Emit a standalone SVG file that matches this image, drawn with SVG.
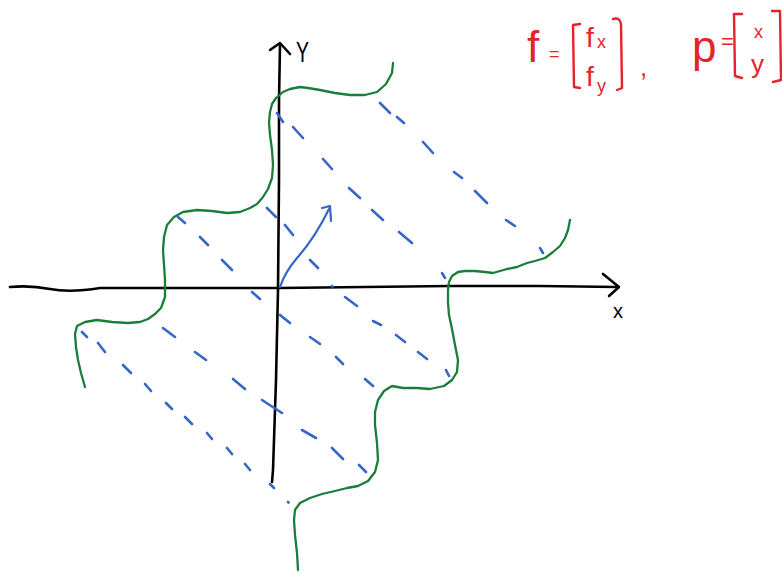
<svg xmlns="http://www.w3.org/2000/svg" width="782" height="573" viewBox="0 0 782 573">
<style>
.axis{fill:none;stroke:#000;stroke-width:2.6;stroke-linecap:round;stroke-linejoin:round}
.green{fill:none;stroke:#1b7d3a;stroke-width:2.3;stroke-linecap:round;stroke-linejoin:round}
.dash{fill:none;stroke:#3567c6;stroke-width:2.6;stroke-linecap:round}
.blue{fill:none;stroke:#3567c6;stroke-width:2.2;stroke-linecap:round;stroke-linejoin:round}
.red{fill:none;stroke:#e5232b;stroke-width:2.4;stroke-linecap:round;stroke-linejoin:round}
.rt{fill:#e5232b;font-family:"Liberation Sans",Arial,sans-serif}
.bt{fill:#000;font-family:"Liberation Sans",Arial,sans-serif}
</style>
<rect width="782" height="573" fill="#fff"/>
<g id="connectors">
<g id="x-axis">
<path class="axis" d="M10,287 Q30,285 50,289 T100,288 L280,288 L450,286 L540,286 L617,287"/>
<path class="axis" d="M603,274 L619,287 L609,296"/>
</g>
<g id="y-axis">
<path class="axis" d="M272,482 L273,470 L276,380 L278,290 L279,180 L279,100 L280,45"/>
<path class="axis" d="M270,50 L280,43 L290,54"/>
</g>
<g id="vector-arrow">
<path class="blue" d="M280,287 Q285,272 297,258 Q315,238 330,207"/>
<path class="blue" d="M322,208 L330,206 L331,221"/>
</g>
</g>
<g id="curves">
<path class="green" d="M393,63 L392,73 L386,84 L377,92 L365,95 L350,95 L335,93 L320,90 L308,88 L300,87 L290,89 L283,92 L276,98 L272,104 L270,112 L269,122 L270,135 L272,150 L273,165 L272,178 L268,189 L263,197 L257,204 L250,208 L240,212 L227,213 L212,211 L197,210 L183,212 L174,217 L167,225 L164,237 L163,250 L164,265 L165,280 L165,297 L161,308 L155,314 L148,319 L140,322 L128,323 L112,322 L97,320 L85,322 L77,326 L75,334 L76,347 L78,360 L81,373 L85,387"/>
<path class="green" d="M570,220 L568,230 L565,238 L560,246 L553,252 L545,258 L535,261 L527,263 L517,267 L507,269 L493,273 L485,272 L475,271 L465,271 L458,272 L452,276 L449,282 L448,290 L448,303 L449,315 L452,329 L455,345 L458,360 L457,372 L452,380 L444,386 L430,389 L417,388 L403,388 L392,386 L384,391 L378,400 L375,412 L375,425 L377,443 L378,460 L375,472 L368,481 L358,486 L347,488 L335,491 L322,494 L310,498 L300,503 L295,510 L294,520 L295,535 L297,553 L298,570"/>
</g>
<g id="dashes">
<path class="dash" d="M380,103 L390,113 M397,117 L404,123 M423,142 L433,153 M454,172 L462,178 M475,191 L487,203 M506,220 L515,226 M540,248 L543,253"/>
<path class="dash" d="M277,113 L283,122 M293,127 L303,138 M323,159 L332,169 M349,188 L360,198 M372,210 L383,220 M399,232 L412,243 M442,273 L445,278"/>
<path class="dash" d="M178,217 L185,223 M200,237 L208,245 M222,260 L232,270 M252,292 L260,299 M280,315 L290,323 M310,337 L320,344 M336,357 L343,364 M365,379 L373,386"/>
<path class="dash" d="M267,208 L276,217 M285,225 L293,235 M310,260 L318,268 M332,286 L332.5,286.5 M345,297 L357,306 M373,321 L381,325 M396,335 L405,342 M418,352 L427,359 M446,370 L449,376"/>
<path class="dash" d="M82,332 L87,337 M98,343 L105,352 M123,365 L131,373 M145,384 L151,391 M166,403 L172,409 M185,417 L192,424 M207,433 L212,439 M227,448 L232,454 M245,464 L250,470 M270,484 L274,488 M288,502 L288.5,502.5"/>
<path class="dash" d="M163,328 L175,337 M195,352 L206,360 M233,379 L245,389 M262,400 L282,413 M302,430 L316,438 M332,448 L343,459 M359,465 L366,472"/>
</g>
<g id="labels">
<text class="bt" x="613" y="318" font-size="20">x</text>
<text class="bt" transform="translate(296,62) scale(0.65,1)" font-size="30">Y</text>
</g>
<g id="formula">
<text class="rt" x="527" y="62" font-size="44">f</text>
<text class="rt" x="549" y="60" font-size="18">=</text>
<path class="red" d="M580,24 L573,25 L574,87 L580,88"/>
<text class="rt" x="586" y="47" font-size="28">f</text>
<text class="rt" x="597" y="48" font-size="18">x</text>
<text class="rt" x="586" y="86" font-size="28">f</text>
<text class="rt" x="597" y="92" font-size="18">y</text>
<path class="red" d="M613,19 Q620,17 621,24 L622,88 L617,90"/>
<text class="rt" x="640" y="76" font-size="26">,</text>
<text class="rt" x="692" y="62" font-size="44">p</text>
<text class="rt" x="721" y="49" font-size="22">=</text>
<path class="red" d="M742,14 L734,14 L735,76 L742,78"/>
<text class="rt" x="754" y="38" font-size="18">x</text>
<text class="rt" x="751" y="73" font-size="26">y</text>
<path class="red" d="M772,11 L780,11 L781,80 L773,82"/>
</g>
</svg>
